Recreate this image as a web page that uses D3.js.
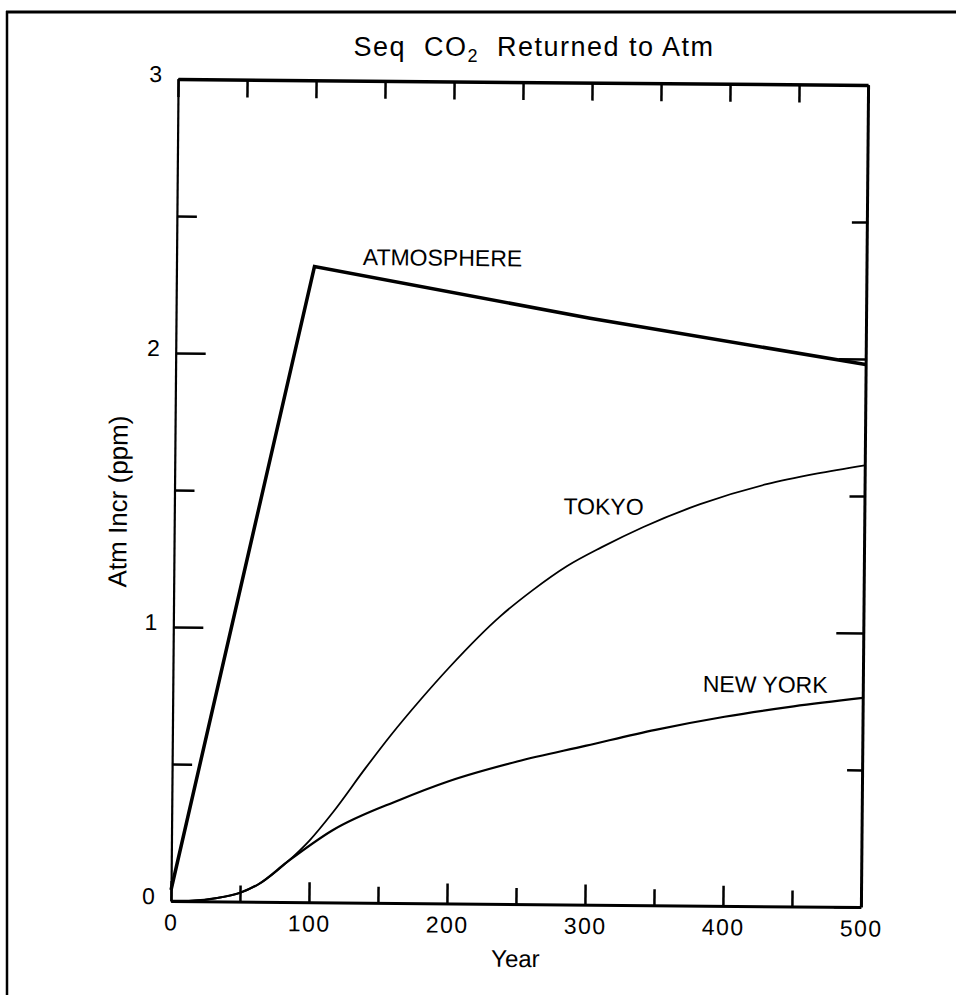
<!DOCTYPE html>
<html>
<head>
<meta charset="utf-8">
<script src="https://cdn.jsdelivr.net/npm/d3@7"></script>
<style>
  body { margin: 0; background: #fff; }
  svg { display: block; }
</style>
</head>
<body>
<svg id="chart" width="956" height="995"></svg>
<script>
// Axis ticks
const xTicks = [0, 50, 100, 150, 200, 250, 300, 350, 400, 450, 500];
const xTickLabels = ["0", "100", "200", "300", "400", "500"];
const yTicks = [0, 0.5, 1, 1.5, 2, 2.5, 3];
const yTickLabels = ["0", "1", "2", "3"];

// Atmosphere: linear rise to year 100, then slow decline
const atmYears = [0, 100, 300, 500];
const atmValues = [0.04, 2.32, 2.14, 1.98];

// Tokyo sequestration site
const tokyoYears = [0, 16, 33, 50, 64, 84, 100, 117, 140, 158, 180, 200, 237, 260, 285, 310, 340, 381, 429, 465, 500];
const tokyoValues = [0, 0.002, 0.012, 0.032, 0.066, 0.146, 0.225, 0.33, 0.49, 0.61, 0.745, 0.86, 1.05, 1.145, 1.235, 1.305, 1.38, 1.465, 1.54, 1.58, 1.612];

// New York sequestration site
const newYorkYears = [0, 16, 33, 50, 64, 84, 117, 165, 200, 250, 300, 350, 400, 450, 500];
const newYorkValues = [0, 0.002, 0.012, 0.032, 0.066, 0.146, 0.264, 0.376, 0.445, 0.52, 0.58, 0.64, 0.69, 0.73, 0.763];

// Curve labels (anchored at their left baseline)
const labelTexts = ["ATMOSPHERE", "TOKYO", "NEW YORK"];
const labelYears = [135, 282, 384];
const labelValues = [2.327, 1.424, 0.78];

const FONT = "'Liberation Sans', Arial, Helvetica, sans-serif";

const svg = d3.select("#chart");
svg.append("rect").attr("width", 956).attr("height", 995).attr("fill", "#fff");

// Page border (top and left edges)
svg.append("line").attr("x1", 6).attr("y1", 12).attr("x2", 956).attr("y2", 12)
  .attr("stroke", "#000").attr("stroke-width", 3);
svg.append("line").attr("x1", 7).attr("y1", 11).attr("x2", 7).attr("y2", 995)
  .attr("stroke", "#000").attr("stroke-width", 2.5);

// Title
const title = svg.append("text")
  .attr("x", 534).attr("y", 56)
  .attr("text-anchor", "middle")
  .attr("font-family", FONT).attr("font-size", 27)
  .attr("letter-spacing", 1.5)
  .style("white-space", "pre");
title.append("tspan").text("Seq  CO");
title.append("tspan").attr("font-size", 18).attr("dy", 6).text("2");
title.append("tspan").attr("dy", -6).text("  Returned to Atm");

const x = d3.scaleLinear().domain([0, 500]).range([174.5, 864.5]);
const y = d3.scaleLinear().domain([0, 3]).range([904, 82]);

const plot = svg.append("g").attr("transform", "rotate(0.5 519.5 493)");

function styleAxis(sel, domainWidth) {
  sel.attr("font-family", FONT).attr("font-size", 23);
  sel.select(".domain").attr("stroke", "#000").attr("stroke-width", domainWidth);
  sel.selectAll(".tick line").attr("stroke", "#000").attr("stroke-width", 2.5);
  sel.selectAll(".tick text").attr("fill", "#000");
}

const isMajorX = d => d % 100 === 0;
const isMajorY = d => Number.isInteger(d);

// Bottom axis
const axisB = plot.append("g").attr("transform", `translate(0,${y(0)})`)
  .call(d3.axisBottom(x).tickValues(xTicks).tickSizeInner(-20).tickSizeOuter(0).tickPadding(13)
    .tickFormat(d => isMajorX(d) ? xTickLabels[d / 100] : ""));
styleAxis(axisB, 3);
axisB.selectAll(".tick line").attr("y2", d => isMajorX(d) ? -20 : -16);
axisB.selectAll(".tick text").attr("letter-spacing", 1.5);

// Top axis
const axisT = plot.append("g").attr("transform", `translate(0,${y(3)})`)
  .call(d3.axisTop(x).tickValues(xTicks).tickSizeInner(-18).tickSizeOuter(0).tickFormat(""));
styleAxis(axisT, 3.5);

// Left axis
const axisL = plot.append("g").attr("transform", `translate(${x(0)},0)`)
  .call(d3.axisLeft(y).tickValues(yTicks).tickSizeInner(-30).tickSizeOuter(0).tickPadding(16)
    .tickFormat(d => isMajorY(d) ? yTickLabels[d] : ""));
styleAxis(axisL, 2.2);
axisL.selectAll(".tick line").attr("x2", d => isMajorY(d) ? 30 : 20);
axisL.selectAll(".tick text").attr("dy", "0.12em");

// Right axis
const axisR = plot.append("g").attr("transform", `translate(${x(500)},0)`)
  .call(d3.axisRight(y).tickValues(yTicks).tickSizeInner(-27).tickSizeOuter(0).tickFormat(""));
styleAxis(axisR, 3);
axisR.selectAll(".tick line").attr("x2", d => isMajorY(d) ? -27 : -15);

// Axis titles
plot.append("text")
  .attr("x", x(250)).attr("y", 967)
  .attr("text-anchor", "middle")
  .attr("font-family", FONT).attr("font-size", 24)
  .text("Year");
plot.append("text")
  .attr("transform", "translate(127,505) rotate(-90)")
  .attr("text-anchor", "middle")
  .attr("font-family", FONT).attr("font-size", 26)
  .text("Atm Incr (ppm)");

// Curves
const atmLine = d3.line().x(i => x(atmYears[i])).y(i => y(atmValues[i])).curve(d3.curveLinear);
const tokyoLine = d3.line().x(i => x(tokyoYears[i])).y(i => y(tokyoValues[i])).curve(d3.curveMonotoneX);
const nyLine = d3.line().x(i => x(newYorkYears[i])).y(i => y(newYorkValues[i])).curve(d3.curveMonotoneX);

plot.append("path").attr("d", nyLine(d3.range(newYorkYears.length)))
  .attr("fill", "none").attr("stroke", "#000").attr("stroke-width", 2.2);
plot.append("path").attr("d", tokyoLine(d3.range(tokyoYears.length)))
  .attr("fill", "none").attr("stroke", "#000").attr("stroke-width", 1.8);
plot.append("path").attr("d", atmLine(d3.range(atmYears.length)))
  .attr("fill", "none").attr("stroke", "#000").attr("stroke-width", 3.5)
  .attr("stroke-linejoin", "miter");

// Curve labels
plot.selectAll("text.curve-label")
  .data(labelTexts)
  .join("text")
  .attr("class", "curve-label")
  .attr("x", (d, i) => x(labelYears[i]))
  .attr("y", (d, i) => y(labelValues[i]))
  .attr("font-family", FONT).attr("font-size", 23)
  .text(d => d);
</script>
</body>
</html>
